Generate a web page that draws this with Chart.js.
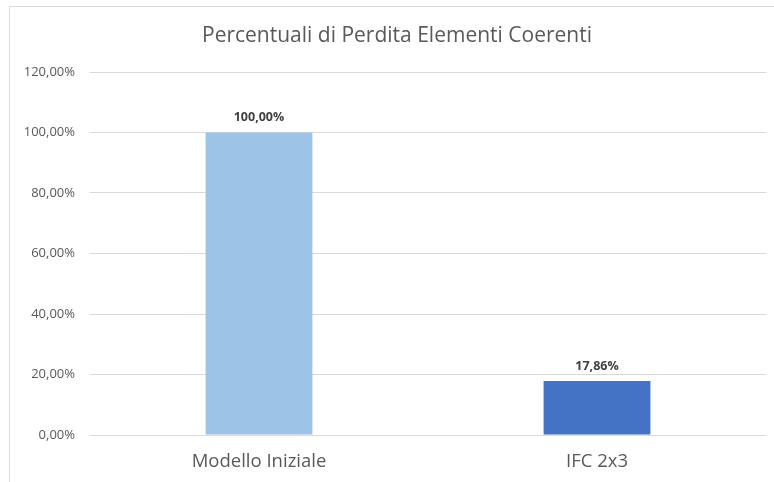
<!DOCTYPE html>
<html>
<head>
<meta charset="utf-8">
<script src="https://cdn.jsdelivr.net/npm/chart.js@4/dist/chart.umd.min.js"></script>
<style>
  body { margin: 0; background: #fff; }
</style>
</head>
<body>
<canvas id="perdita" width="774" height="482"></canvas>
<script>
const categories = ['Modello Iniziale', 'IFC 2x3'];
const percentuali = [1.0, 0.1786];
const barColors = ['#9DC3E6', '#4472C4'];
const yTicks = [0, 0.2, 0.4, 0.6, 0.8, 1.0, 1.2];
const titolo = 'Percentuali di Perdita Elementi Coerenti';

const fontFamily = '"Open Sans", "Liberation Sans", sans-serif';

function formatPerc(v) {
  return (v * 100).toFixed(2).replace('.', ',') + '%';
}

// chart frame (top and left border) plus the title
const framePlugin = {
  id: 'frame',
  beforeDraw(chart) {
    const ctx = chart.ctx;
    ctx.save();
    ctx.fillStyle = '#fff';
    ctx.fillRect(0, 0, chart.width, chart.height);
    ctx.strokeStyle = '#d9d9d9';
    ctx.lineWidth = 1;
    ctx.beginPath();
    ctx.moveTo(9.5, chart.height);
    ctx.lineTo(9.5, 6.5);
    ctx.lineTo(chart.width, 6.5);
    ctx.stroke();

    ctx.font = '21px ' + fontFamily;
    ctx.fillStyle = '#595959';
    ctx.textAlign = 'center';
    ctx.textBaseline = 'alphabetic';
    ctx.fillText(titolo, 397, 42);
    ctx.restore();
  }
};

// value labels above the bars
const valueLabels = {
  id: 'valueLabels',
  afterDatasetsDraw(chart) {
    const ctx = chart.ctx;
    const meta = chart.getDatasetMeta(0);
    ctx.save();
    ctx.font = 'bold 12.5px ' + fontFamily;
    ctx.fillStyle = '#404040';
    ctx.textAlign = 'center';
    ctx.textBaseline = 'middle';
    meta.data.forEach((bar, i) => {
      ctx.fillText(formatPerc(percentuali[i]), bar.x, bar.y - 15);
    });
    ctx.restore();
  }
};

new Chart(document.getElementById('perdita').getContext('2d'), {
  type: 'bar',
  data: {
    labels: categories,
    datasets: [{
      data: percentuali,
      backgroundColor: barColors,
      categoryPercentage: 1,
      barPercentage: 0.316
    }]
  },
  options: {
    responsive: false,
    animation: false,
    layout: { padding: { left: 0, right: 8, top: 72, bottom: 0 } },
    plugins: {
      legend: { display: false },
      tooltip: { enabled: false },
      title: { display: false }
    },
    scales: {
      x: {
        grid: { display: false, drawTicks: false },
        border: { display: false },
        ticks: {
          color: '#595959',
          font: { family: fontFamily, size: 18.5 },
          padding: 16
        },
        afterFit(scale) { scale.height = 47; }
      },
      y: {
        min: 0,
        max: 1.2,
        afterBuildTicks(scale) {
          scale.ticks = yTicks.map(v => ({ value: v }));
        },
        grid: { color: '#d9d9d9', lineWidth: 1, drawTicks: false },
        border: { display: false },
        ticks: {
          color: '#595959',
          font: { family: fontFamily, size: 13 },
          padding: 15,
          callback: v => formatPerc(v)
        },
        afterFit(scale) { scale.width = 90; }
      }
    }
  },
  plugins: [framePlugin, valueLabels]
});
</script>
</body>
</html>
